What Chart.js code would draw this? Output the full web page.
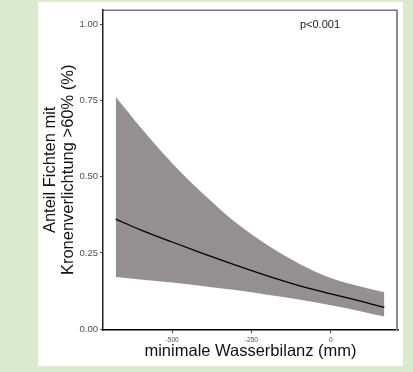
<!DOCTYPE html>
<html>
<head>
<meta charset="utf-8">
<script src="https://cdn.jsdelivr.net/npm/chart.js@4/dist/chart.umd.min.js"></script>
<style>
  html, body { margin: 0; padding: 0; background: #d9eacd; }
  body { width: 413px; height: 372px; position: relative; overflow: hidden; }
  #panel { position: absolute; left: 38px; top: 2px; width: 365px; height: 364px; background: #fff; }
</style>
</head>
<body>
<div id="panel"><canvas id="chart" width="365" height="364"></canvas></div>
<script>
// minimal water balance (mm) and predicted share with 95% band
const wasserbilanz = [-678, -600, -500, -400, -300, -200, -100, 0, 100, 169];
const anteilFit    = [0.361, 0.326, 0.286, 0.247, 0.210, 0.175, 0.143, 0.116, 0.090, 0.071];
const anteilOben   = [0.763, 0.663, 0.545, 0.442, 0.350, 0.276, 0.215, 0.168, 0.138, 0.121];
const anteilUnten  = [0.171, 0.163, 0.153, 0.141, 0.128, 0.113, 0.097, 0.078, 0.057, 0.041];

const yTicks = [0, 0.25, 0.5, 0.75, 1];
const xTicks = [-500, -250, 0];
const pText = 'p<0.001';
const pPos = { x: -34, y: 1.0 };

const pts = arr => wasserbilanz.map((x, i) => ({ x: x, y: arr[i] }));

const frame = {
    id: 'frame',
    afterDraw(chart) {
        const c = chart.ctx, a = chart.chartArea;
        c.save();
        c.strokeStyle = '#333';
        c.lineWidth = 1;
        c.beginPath();
        c.moveTo(a.left, a.top + 0.5);
        c.lineTo(a.right, a.top + 0.5);
        c.stroke();
        c.strokeStyle = '#8a8a8a';
        c.lineWidth = 2;
        c.beginPath();
        c.moveTo(a.right - 1, a.top);
        c.lineTo(a.right - 1, a.bottom);
        c.stroke();
        c.fillStyle = '#1a1a1a';
        c.font = '11px "Liberation Sans", Arial, sans-serif';
        c.textAlign = 'center';
        c.textBaseline = 'middle';
        c.fillText(pText, chart.scales.x.getPixelForValue(pPos.x), chart.scales.y.getPixelForValue(pPos.y));
        c.restore();
    }
};

const ctx = document.getElementById('chart').getContext('2d');
new Chart(ctx, {
    type: 'line',
    data: {
        datasets: [{
            data: pts(anteilFit),
            borderColor: '#000',
            borderWidth: 1.3,
            pointRadius: 0,
            fill: false,
            cubicInterpolationMode: 'monotone',
            order: 0
        }, {
            data: pts(anteilUnten),
            borderWidth: 0,
            borderColor: 'rgba(0,0,0,0)',
            pointRadius: 0,
            fill: false,
            cubicInterpolationMode: 'monotone',
            order: 1
        }, {
            data: pts(anteilOben),
            borderWidth: 0,
            borderColor: 'rgba(0,0,0,0)',
            backgroundColor: '#948f90',
            pointRadius: 0,
            fill: 1,
            cubicInterpolationMode: 'monotone',
            order: 2
        }]
    },
    options: {
        responsive: false,
        animation: false,
        layout: { padding: { top: 4, right: 5, left: 0, bottom: 0 } },
        plugins: { legend: { display: false }, tooltip: { enabled: false } },
        scales: {
            x: {
                type: 'linear',
                min: -718,
                max: 212,
                afterFit: s => { s.height = 36; },
                afterBuildTicks: s => { s.ticks = xTicks.map(v => ({ value: v })); },
                grid: { drawOnChartArea: false, drawTicks: true, tickLength: 3, tickColor: '#444' },
                border: { display: true, color: '#000', width: 1.5 },
                ticks: {
                    padding: 3,
                    color: '#4d4d4d',
                    maxRotation: 0,
                    font: { family: '"Liberation Sans", Arial, sans-serif', size: 6.5 },
                    callback: v => String(v)
                },
                title: {
                    display: true,
                    text: 'minimale Wasserbilanz (mm)',
                    color: '#111',
                    padding: { top: 0, bottom: 5 },
                    font: { family: '"Liberation Sans", Arial, sans-serif', size: 16.5, lineHeight: 1.2 }
                }
            },
            y: {
                min: -0.003,
                max: 1.049,
                afterFit: s => { s.width = 65; },
                afterBuildTicks: s => { s.ticks = yTicks.map(v => ({ value: v })); },
                grid: { drawOnChartArea: false, drawTicks: true, tickLength: 3, tickColor: '#444' },
                border: { display: true, color: '#222', width: 1.5 },
                ticks: {
                    padding: 2,
                    color: '#4d4d4d',
                    font: { family: '"Liberation Sans", Arial, sans-serif', size: 9.5 },
                    callback: v => v.toFixed(2)
                },
                title: {
                    display: true,
                    text: ['Anteil Fichten mit', 'Kronenverlichtung >60% (%)'],
                    color: '#111',
                    padding: { top: 3, bottom: 0 },
                    font: { family: '"Liberation Sans", Arial, sans-serif', size: 16.5, lineHeight: 1.09 }
                }
            }
        }
    },
    plugins: [frame]
});
</script>
</body>
</html>
